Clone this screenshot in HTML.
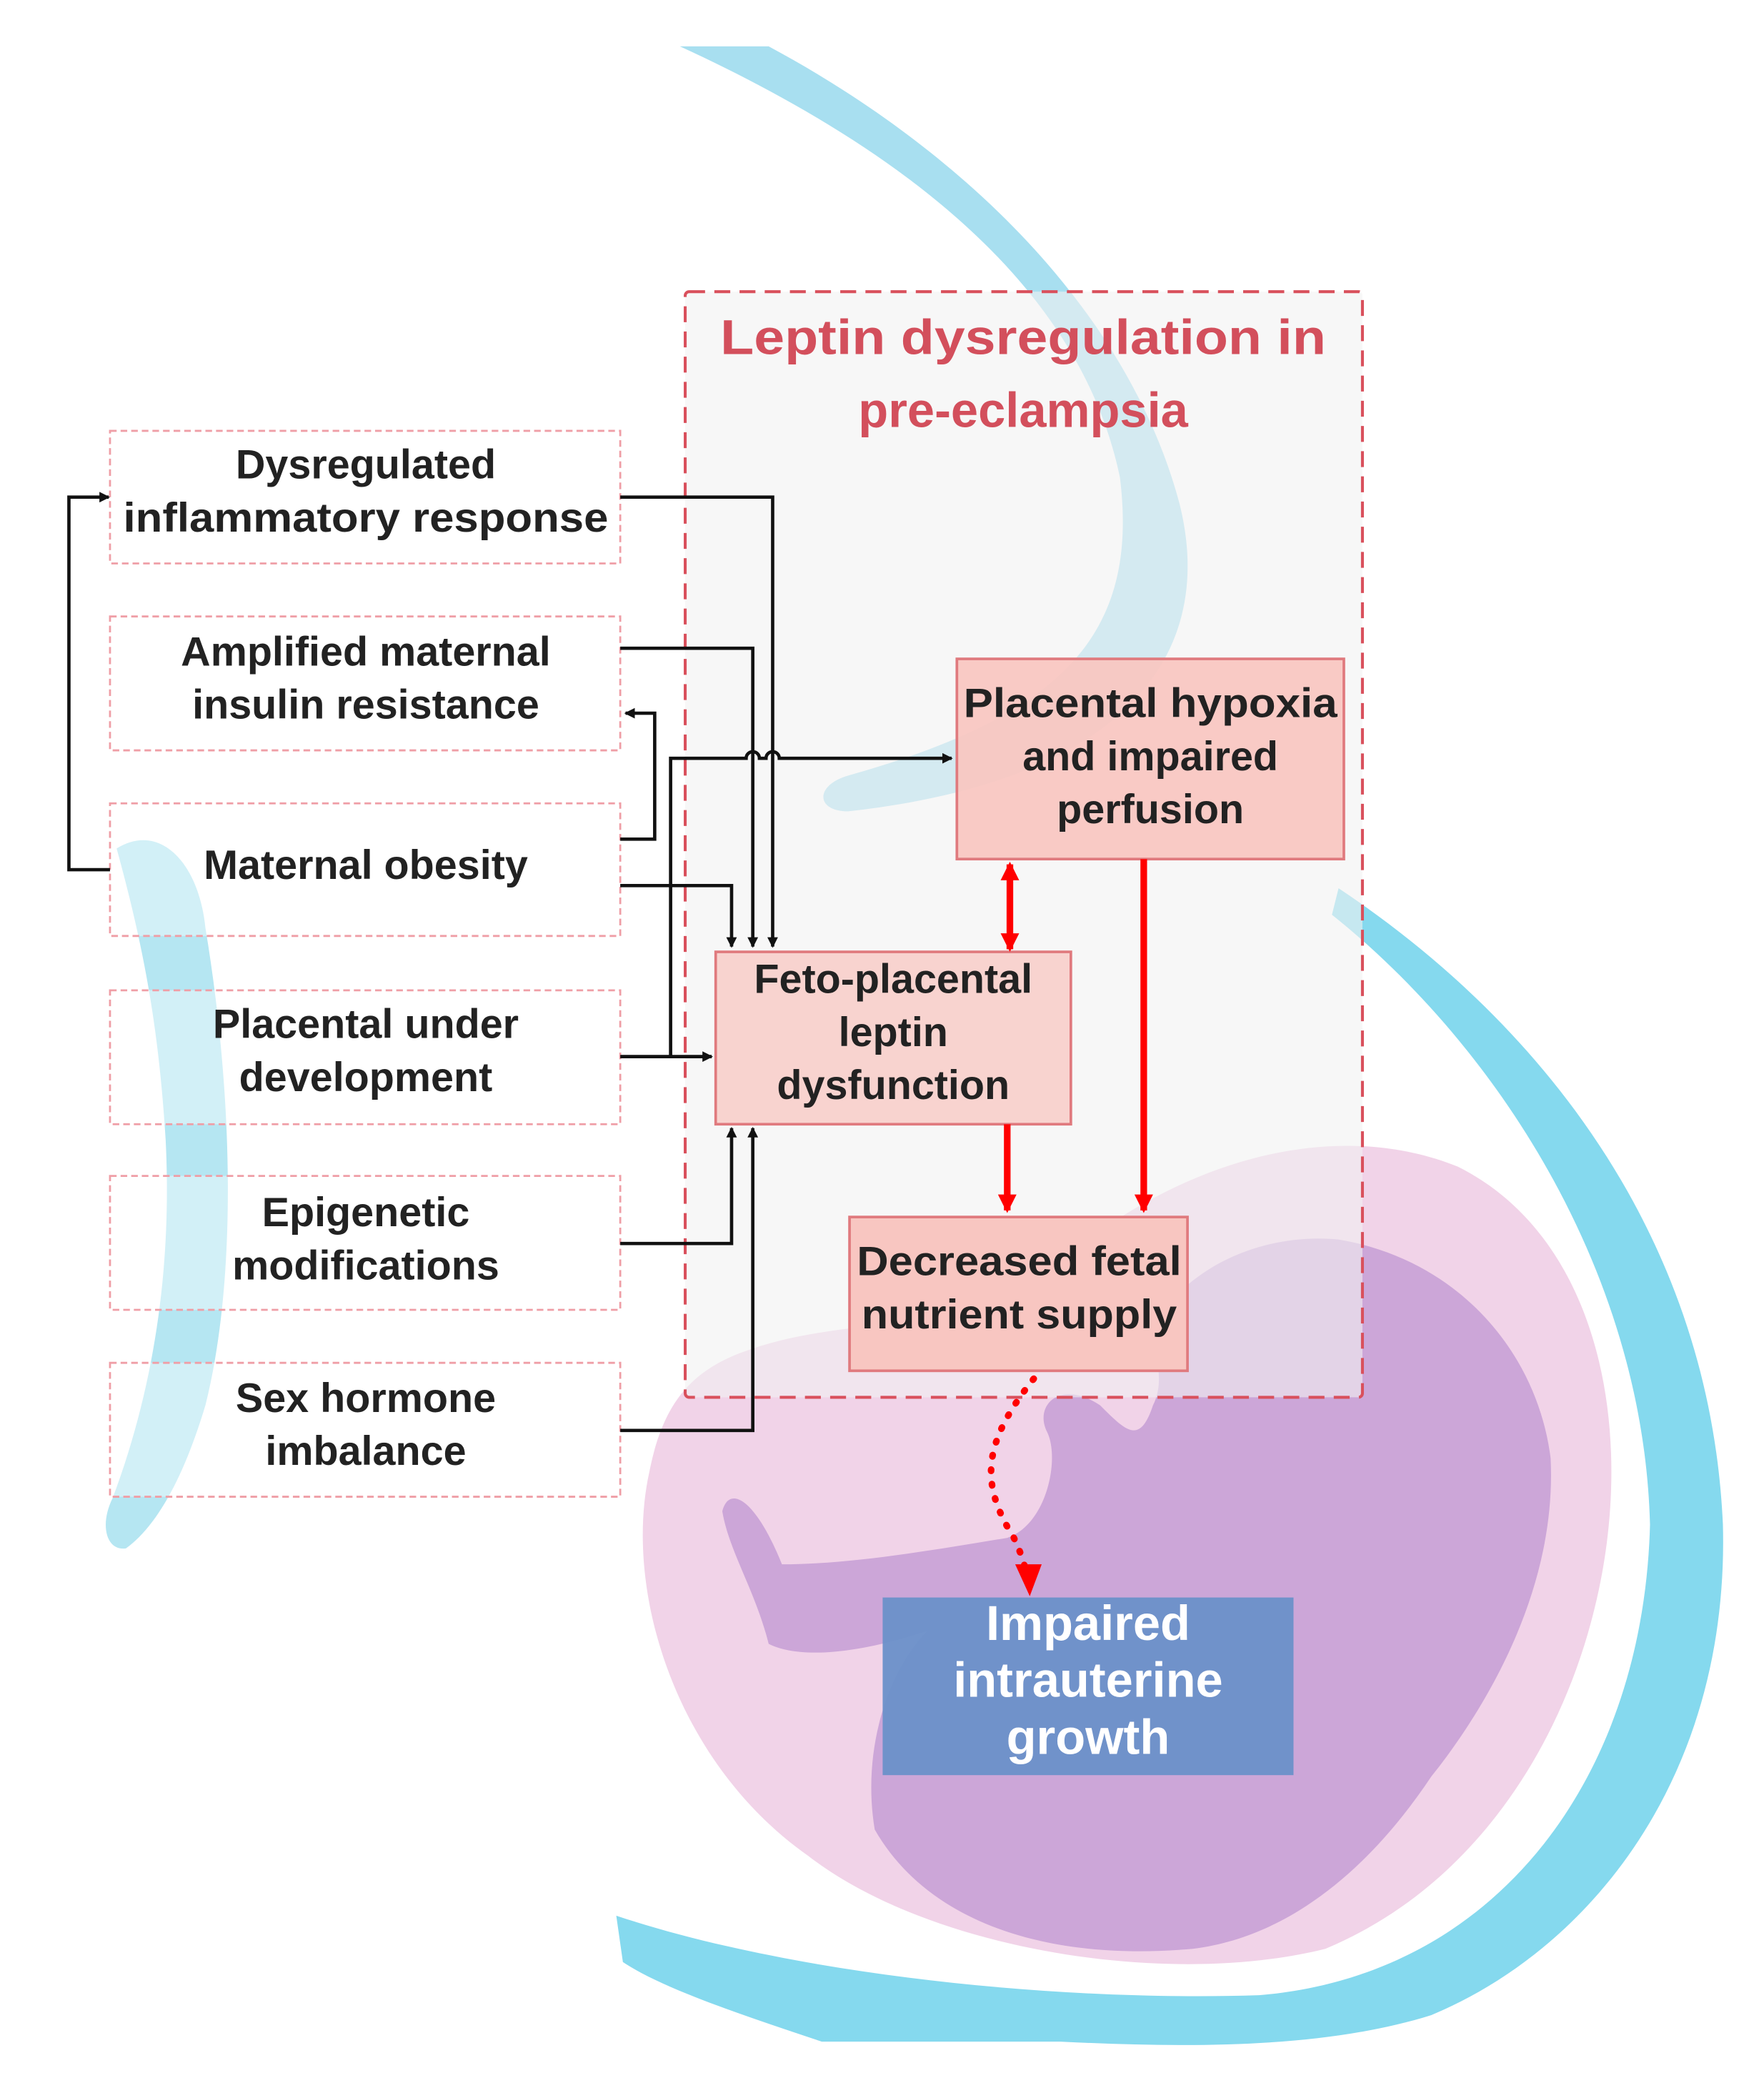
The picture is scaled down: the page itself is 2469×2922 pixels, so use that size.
<!DOCTYPE html>
<html><head><meta charset="utf-8"><style>html,body{margin:0;padding:0;background:#fff}svg{display:block}</style></head>
<body>
<svg xmlns="http://www.w3.org/2000/svg" width="2469" height="2922" viewBox="0 0 1331 1575" preserveAspectRatio="none" font-family="Liberation Sans, Arial, sans-serif" font-weight="bold">
<defs>
<marker id="ab" markerWidth="8" markerHeight="8" refX="7" refY="4" orient="auto" markerUnits="userSpaceOnUse"><path d="M0,0 L8,4 L0,8 z" fill="#111"/></marker>
<marker id="ar" markerWidth="14" markerHeight="14" refX="12" refY="7" orient="auto" markerUnits="userSpaceOnUse"><path d="M0,0 L14,7 L0,14 z" fill="#f00"/></marker>
<marker id="ars" markerWidth="14" markerHeight="14" refX="2" refY="7" orient="auto" markerUnits="userSpaceOnUse"><path d="M14,0 L0,7 L14,14 z" fill="#f00"/></marker>
</defs>
<path d="M560,1020 C640,990 720,1010 790,960 C880,880 1000,840 1100,880 C1200,930 1230,1060 1210,1180 C1190,1300 1120,1420 1000,1470 C880,1500 700,1470 610,1400 C510,1330 470,1200 490,1110 C500,1060 520,1035 560,1020 Z" fill="#f1d3e8"/>
<path d="M870,1000 C900,950 960,930 1010,935 C1100,950 1160,1020 1170,1100 C1175,1200 1120,1290 1080,1340 C1040,1400 980,1460 900,1470 C790,1480 700,1450 660,1380 C650,1320 670,1260 700,1230 C640,1250 600,1250 580,1240 C570,1200 550,1170 545,1140 C550,1120 570,1130 590,1180 C640,1180 700,1170 760,1160 C790,1150 800,1100 790,1080 C780,1060 800,1040 830,1060 C850,1080 860,1090 870,1060 C880,1040 870,1020 870,1000 Z" fill="#cca6d8"/>
<path d="M513,35 L580,35 C720,110 850,230 890,380 C920,500 840,590 640,612 C615,612 615,592 640,585 C800,540 860,480 845,360 C820,240 720,130 513,35 Z" fill="#9fdcee" opacity="0.9"/>
<path d="M1010,670 C1160,770 1290,930 1300,1150 C1305,1340 1200,1470 1080,1520 C1000,1545 900,1545 800,1540 L620,1540 C560,1520 500,1500 470,1480 L465,1445 C600,1490 800,1510 950,1505 C1130,1490 1240,1340 1245,1150 C1240,960 1130,790 1005,690 Z" fill="#85d9ee"/>
<path d="M88,640 C120,620 150,650 155,700 C175,820 180,960 155,1060 C140,1110 120,1150 95,1168 C80,1170 75,1150 85,1130 C115,1050 130,960 125,860 C120,780 110,720 88,640 Z" fill="#b5e6f2"/>
<rect x="517" y="220" width="511" height="834" fill="#f2f2f2" fill-opacity="0.6" stroke="#d9505c" stroke-width="2.2" stroke-dasharray="12,7" rx="3"/>
<text x="772" y="267" font-size="37" fill="#d34f5c" text-anchor="middle" textLength="457" lengthAdjust="spacingAndGlyphs">Leptin dysregulation in</text>
<text x="772" y="322" font-size="37" fill="#d34f5c" text-anchor="middle">pre-eclampsia</text>
<g fill="#fff" fill-opacity="0.4" stroke="#ef9ea6" stroke-width="1.5" stroke-dasharray="5,3">
<rect x="83" y="325" width="385" height="100"/>
<rect x="83" y="465" width="385" height="101"/>
<rect x="83" y="606" width="385" height="100"/>
<rect x="83" y="747" width="385" height="101"/>
<rect x="83" y="887" width="385" height="101"/>
<rect x="83" y="1028" width="385" height="101"/>
</g>
<g font-size="31" fill="#222" text-anchor="middle">
<text x="276" y="361">Dysregulated</text>
<text x="276" y="401" textLength="366" lengthAdjust="spacingAndGlyphs">inflammatory response</text>
<text x="276" y="502">Amplified maternal</text>
<text x="276" y="542">insulin resistance</text>
<text x="276" y="663">Maternal obesity</text>
<text x="276" y="783">Placental under</text>
<text x="276" y="823">development</text>
<text x="276" y="925">Epigenetic</text>
<text x="276" y="965">modifications</text>
<text x="276" y="1065">Sex hormone</text>
<text x="276" y="1105">imbalance</text>
</g>
<rect x="722" y="497" width="292" height="151" fill="#f9c6c0" fill-opacity="0.92" stroke="#e07a7e" stroke-width="2"/>
<rect x="540" y="718" width="268" height="130" fill="#f8d3cf" stroke="#e07a7e" stroke-width="2"/>
<rect x="641" y="918" width="255" height="116" fill="#f8c6c1" stroke="#e07a7e" stroke-width="2"/>
<rect x="666" y="1205" width="310" height="134" fill="#6a90c9" fill-opacity="0.95"/>
<g font-size="31" fill="#222" text-anchor="middle">
<text x="868" y="541" textLength="282" lengthAdjust="spacingAndGlyphs">Placental hypoxia</text>
<text x="868" y="581">and impaired</text>
<text x="868" y="621">perfusion</text>
<text x="674" y="749">Feto-placental</text>
<text x="674" y="789">leptin</text>
<text x="674" y="829">dysfunction</text>
<text x="769" y="962" textLength="245" lengthAdjust="spacingAndGlyphs">Decreased fetal</text>
<text x="769" y="1002" textLength="238" lengthAdjust="spacingAndGlyphs">nutrient supply</text>
</g>
<g font-size="37" fill="#fff" text-anchor="middle">
<text x="821" y="1237">Impaired</text>
<text x="821" y="1280">intrauterine</text>
<text x="821" y="1323">growth</text>
</g>
<g fill="none" stroke="#111" stroke-width="2.5">
<path d="M468,375 H583 V714" marker-end="url(#ab)"/>
<path d="M468,489 H568 V714" marker-end="url(#ab)"/>
<path d="M468,668 H552 V714" marker-end="url(#ab)"/>
<path d="M468,633 H494 V538 H472" marker-end="url(#ab)"/>
<path d="M83,656 H52 V375 H82" marker-end="url(#ab)"/>
<path d="M468,797 H537" marker-end="url(#ab)"/>
<path d="M506,797 V572 H563 a5,5 0 0 1 10,0 H578 a5,5 0 0 1 10,0 H718" marker-end="url(#ab)"/>
<path d="M468,938 H552 V851" marker-end="url(#ab)"/>
<path d="M468,1079 H568 V851" marker-end="url(#ab)"/>
</g>
<g fill="none" stroke="#f00" stroke-width="5">
<path d="M762,652 V716" marker-start="url(#ars)" marker-end="url(#ar)"/>
<path d="M863,648 V913" marker-end="url(#ar)"/>
<path d="M760,848 V913" marker-end="url(#ar)"/>
</g>
<path d="M780,1040 C740,1090 740,1120 765,1160 C772,1175 775,1185 776,1200" fill="none" stroke="#f00" stroke-width="5" stroke-dasharray="1,10" stroke-linecap="round"/>
<path d="M766,1180 L786,1180 L777,1204 z" fill="#f00"/>
</svg>
</body></html>
